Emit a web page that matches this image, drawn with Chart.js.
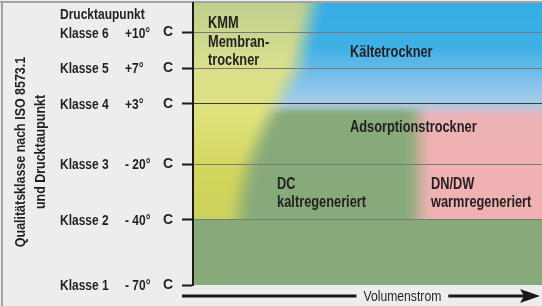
<!DOCTYPE html>
<html><head><meta charset="utf-8">
<script src="https://cdn.jsdelivr.net/npm/chart.js@4/dist/chart.umd.min.js"></script>
<style>html,body{margin:0;padding:0;background:#ededed;overflow:hidden}canvas{display:block}</style>
</head><body><canvas id="c" width="542" height="306"></canvas>
<script>
// ---------------- data ----------------
const classNames = ['Klasse 1', 'Klasse 2', 'Klasse 3', 'Klasse 4', 'Klasse 5', 'Klasse 6'];
const dewPoints  = ['- 70°', '- 40°', '- 20°', '+3°', '+7°', '+10°'];
const dewUnit    = ['C', 'C', 'C', 'C', 'C', 'C'];
const classLevel = [0, 23.05, 42.9, 64.2, 76.95, 89.5];   // position of each class on the quality axis (0..100)
const axisTitle  = ['Qualitätsklasse nach ISO 8573.1', 'und Drucktaupunkt'];
const headerLabel = 'Drucktaupunkt';
const xAxisLabel = 'Volumenstrom';

// region outlines (x = Volumenstrom 0..100, y = quality axis 0..100)
const membranX = [-12, 36.5, 34.6, 29.8, 23.8, 20.0, 15.8, 13.5, 12.9, -12];
const membranY = [108, 108, 100, 76.2, 64.2, 55.0, 42.6, 30.1, 12.4, 12.4];
const kaelteX  = [-12, 115, 115, -12];
const kaelteY  = [108, 108, 62.3, 62.3];
const warmX    = [64.5, 115, 115, 64.5];
const warmY    = [66, 66, 10, 10];

const regionNames = ['KMM', 'Membran-', 'trockner', 'Kältetrockner', 'Adsorptionstrockner',
                     'DC', 'kaltregeneriert', 'DN/DW', 'warmregeneriert'];
const regionNameX = [4.3, 4.3, 4.3, 45, 45, 24.1, 24.1, 68.2, 68.2];
const regionNameY = [93.1, 86.5, 80, 83, 56.4, 36.2, 29.6, 36.2, 29.6];

// ---------------- styles ----------------
const FONT = '"Liberation Sans", Arial, Helvetica, sans-serif';
const INK = '#231f20';
const GREEN = '#86aa7a';
const yellowStops = [[100, '#bfd08e'], [78, '#d8de8e'], [60, '#dfe27c'], [40, '#d2d65c'], [20, '#cbd25a']];
const blueStops   = [[100, '#35ace5'], [84, '#3fb0e6'], [73, '#7cc0ea'], [66, '#a0cbea'], [62, '#b0cbe0']];
const pinkStops   = [[68, '#d4c4dc'], [60, '#ecb4b8'], [50, '#efb1b1'], [10, '#efb1b1']];

const pts = (xs, ys) => xs.map((x, i) => ({ x, y: ys[i] }));

function drawText(ctx, s, x, y, size, weight, align, sx) {
  ctx.save();
  ctx.font = `${weight} ${size}px ${FONT}`;
  ctx.fillStyle = INK;
  ctx.textAlign = align;
  ctx.textBaseline = 'alphabetic';
  ctx.translate(x, y + size * 0.36);
  ctx.scale(sx, 1);
  ctx.fillText(s, 0, 0);
  ctx.restore();
}

const parseHex = h => { const n = parseInt(h.slice(1), 16); return [(n >> 16) & 255, (n >> 8) & 255, n & 255]; };
function colorAt(stops, v) {
  if (v >= stops[0][0]) return parseHex(stops[0][1]);
  for (let i = 1; i < stops.length; i++) {
    if (v >= stops[i][0]) {
      const [v0, c0] = stops[i - 1], [v1, c1] = stops[i];
      const t = (v0 - v) / (v0 - v1), A = parseHex(c0), B = parseHex(c1);
      return A.map((q, k) => q + (B[k] - q) * t);
    }
  }
  return parseHex(stops[stops.length - 1][1]);
}
const smooth = t => t <= 0 ? 0 : t >= 1 ? 1 : t * t * (3 - 2 * t);
function scanBounds(el, py) {
  const xs = [];
  for (let i = 0; i < el.length; i++) {
    const p = el[i], q = el[(i + 1) % el.length];
    if ((p.y <= py && q.y > py) || (q.y <= py && p.y > py)) xs.push(p.x + (py - p.y) * (q.x - p.x) / (q.y - p.y));
  }
  if (xs.length < 2) return null;
  return [Math.min(...xs), Math.max(...xs)];
}
// paint a polygon (dataset idx) with soft (blurred-looking) edges, row by row
function paintSoft(ctx, chart, idx, stops, S, Sv, yFrom, yTo) {
  const y = chart.scales.y;
  const el = chart.getDatasetMeta(idx).data.map(p => ({ x: p.x, y: p.y }));
  const ymin = Math.min(...el.map(p => p.y)), ymax = Math.max(...el.map(p => p.y));
  const ramp = [0, 0.15, 0.3, 0.45, 0.6, 0.75, 0.9, 1];
  for (let py = Math.floor(yFrom); py < yTo; py++) {
    const c = py + 0.5;
    const b = scanBounds(el, Math.min(ymax - 0.01, Math.max(ymin + 0.01, c)));
    if (!b) continue;
    const dv = Math.min(c - ymin, ymax - c);
    const va = Sv > 0 ? smooth((dv + Sv) / (2 * Sv)) : (dv >= 0 ? 1 : 0);
    if (va <= 0) continue;
    const [r, g, bl] = colorAt(stops, y.getValueForPixel(c)).map(Math.round);
    const x0 = b[0] - S, x1 = b[1] + S, tot = x1 - x0;
    const gr = ctx.createLinearGradient(x0, 0, x1, 0);
    const half = Math.min(2 * S, tot / 2);
    ramp.forEach(t => gr.addColorStop((t * half) / tot, `rgba(${r},${g},${bl},${smooth(t) * va})`));
    ramp.slice().reverse().forEach(t => gr.addColorStop(1 - (t * half) / tot, `rgba(${r},${g},${bl},${smooth(t) * va})`));
    ctx.fillStyle = gr;
    ctx.fillRect(x0, py, tot, 1);
  }
}

const regionPainter = {
  id: 'regionPainter',
  beforeDraw(chart) {
    const { ctx, chartArea: a, scales: { y } } = chart;
    ctx.save();
    ctx.fillStyle = '#ededed';
    ctx.fillRect(0, 0, chart.width, chart.height);
    ctx.fillStyle = '#a4a4a4';
    ctx.fillRect(0, 1, chart.width, 2);
    ctx.fillRect(1, 1, 2, chart.height - 1);

    ctx.beginPath();
    ctx.rect(a.left, a.top, a.right - a.left, a.bottom - a.top);
    ctx.clip();
    ctx.fillStyle = GREEN;
    ctx.fillRect(a.left, a.top, a.right - a.left, a.bottom - a.top);
    const k2 = y.getPixelForValue(classLevel[1]);
    paintSoft(ctx, chart, 0, pinkStops, 15, 7, a.top, k2);      // DN/DW warmregeneriert
    paintSoft(ctx, chart, 1, blueStops, 15, 7, a.top, k2);      // Kältetrockner
    paintSoft(ctx, chart, 2, yellowStops, 15, 0, a.top, k2);    // KMM / Membrantrockner
    ctx.restore();
  },
  afterDraw(chart) {
    const { ctx, chartArea: a, scales: { x, y } } = chart;
    drawText(ctx, headerLabel, 60, 13.5, 15, 'bold', 'left', 0.8);
    classNames.forEach((n, i) => {
      const py = y.getPixelForValue(classLevel[i]);
      drawText(ctx, n, 60, py, 15, 'bold', 'left', 0.8);
      drawText(ctx, dewPoints[i], 125, py, 15, 'bold', 'left', 0.8);
    });
    const cy = (a.top + a.bottom) / 2 + 8;
    [20, 39.5].forEach((cx, i) => {
      ctx.save();
      ctx.translate(cx, cy);
      ctx.rotate(-Math.PI / 2);
      ctx.scale(0.83, 1);
      ctx.font = `bold 15px ${FONT}`;
      ctx.fillStyle = INK;
      ctx.textAlign = 'center';
      ctx.textBaseline = 'alphabetic';
      ctx.fillText(axisTitle[i], 0, 5.4);
      ctx.restore();
    });
    regionNames.forEach((n, i) => {
      drawText(ctx, n, x.getPixelForValue(regionNameX[i]), y.getPixelForValue(regionNameY[i]), 16, 'bold', 'left', 0.8);
    });
    const ay = a.bottom + 11;
    const lx = x.getPixelForValue(60);
    ctx.save();
    ctx.font = `14px ${FONT}`;
    const tw = ctx.measureText(xAxisLabel).width * 0.87;
    ctx.fillStyle = '#1a1a1a';
    ctx.fillRect(a.left - 11, ay - 1.5, (lx - tw / 2 - 7) - (a.left - 11), 3);
    const tip = a.right - 2;
    ctx.fillRect(lx + tw / 2 + 7, ay - 1.5, tip - 14 - (lx + tw / 2 + 7), 3);
    ctx.beginPath();
    ctx.moveTo(tip, ay);
    ctx.lineTo(tip - 20, ay - 7);
    ctx.lineTo(tip - 16, ay);
    ctx.lineTo(tip - 20, ay + 7);
    ctx.closePath();
    ctx.fill();
    ctx.restore();
    drawText(ctx, xAxisLabel, lx, ay, 14, 'normal', 'center', 0.87);
  }
};

new Chart(document.getElementById('c'), {
  type: 'scatter',
  data: {
    datasets: [
      { label: 'DN/DW warmregeneriert', data: pts(warmX, warmY) },
      { label: 'Kältetrockner', data: pts(kaelteX, kaelteY) },
      { label: 'KMM Membrantrockner', data: pts(membranX, membranY) }
    ].map(d => Object.assign(d, { pointRadius: 0, showLine: false, borderWidth: 0 }))
  },
  options: {
    responsive: false,
    animation: false,
    devicePixelRatio: 1,
    layout: { padding: { left: 0, top: 3, right: 0, bottom: 21 } },
    plugins: { legend: { display: false }, tooltip: { enabled: false } },
    events: [],
    scales: {
      x: { type: 'linear', min: 0, max: 100, display: false },
      y: {
        type: 'linear', min: 0, max: 100, position: 'left',
        afterBuildTicks: s => { s.ticks = classLevel.map(v => ({ value: v })); },
        afterFit: s => { s.width = 193; s.paddingTop = 0; s.paddingBottom = 0; },
        ticks: {
          autoSkip: false, padding: 9, color: INK,
          font: { family: FONT, size: 14, weight: 'bold' },
          callback: (v, i) => dewUnit[i]
        },
        grid: {
          drawOnChartArea: true, drawTicks: true, tickLength: 11, tickWidth: 2, tickColor: '#1a1a1a',
          lineWidth: 1,
          color: c => c.index === 0 ? 'rgba(0,0,0,0)' : (c.index === 3 ? '#3c3c3c' : '#7a7a7a')
        },
        border: { display: true, color: '#1a1a1a', width: 2 }
      }
    }
  },
  plugins: [regionPainter]
});
</script>
</body></html>
